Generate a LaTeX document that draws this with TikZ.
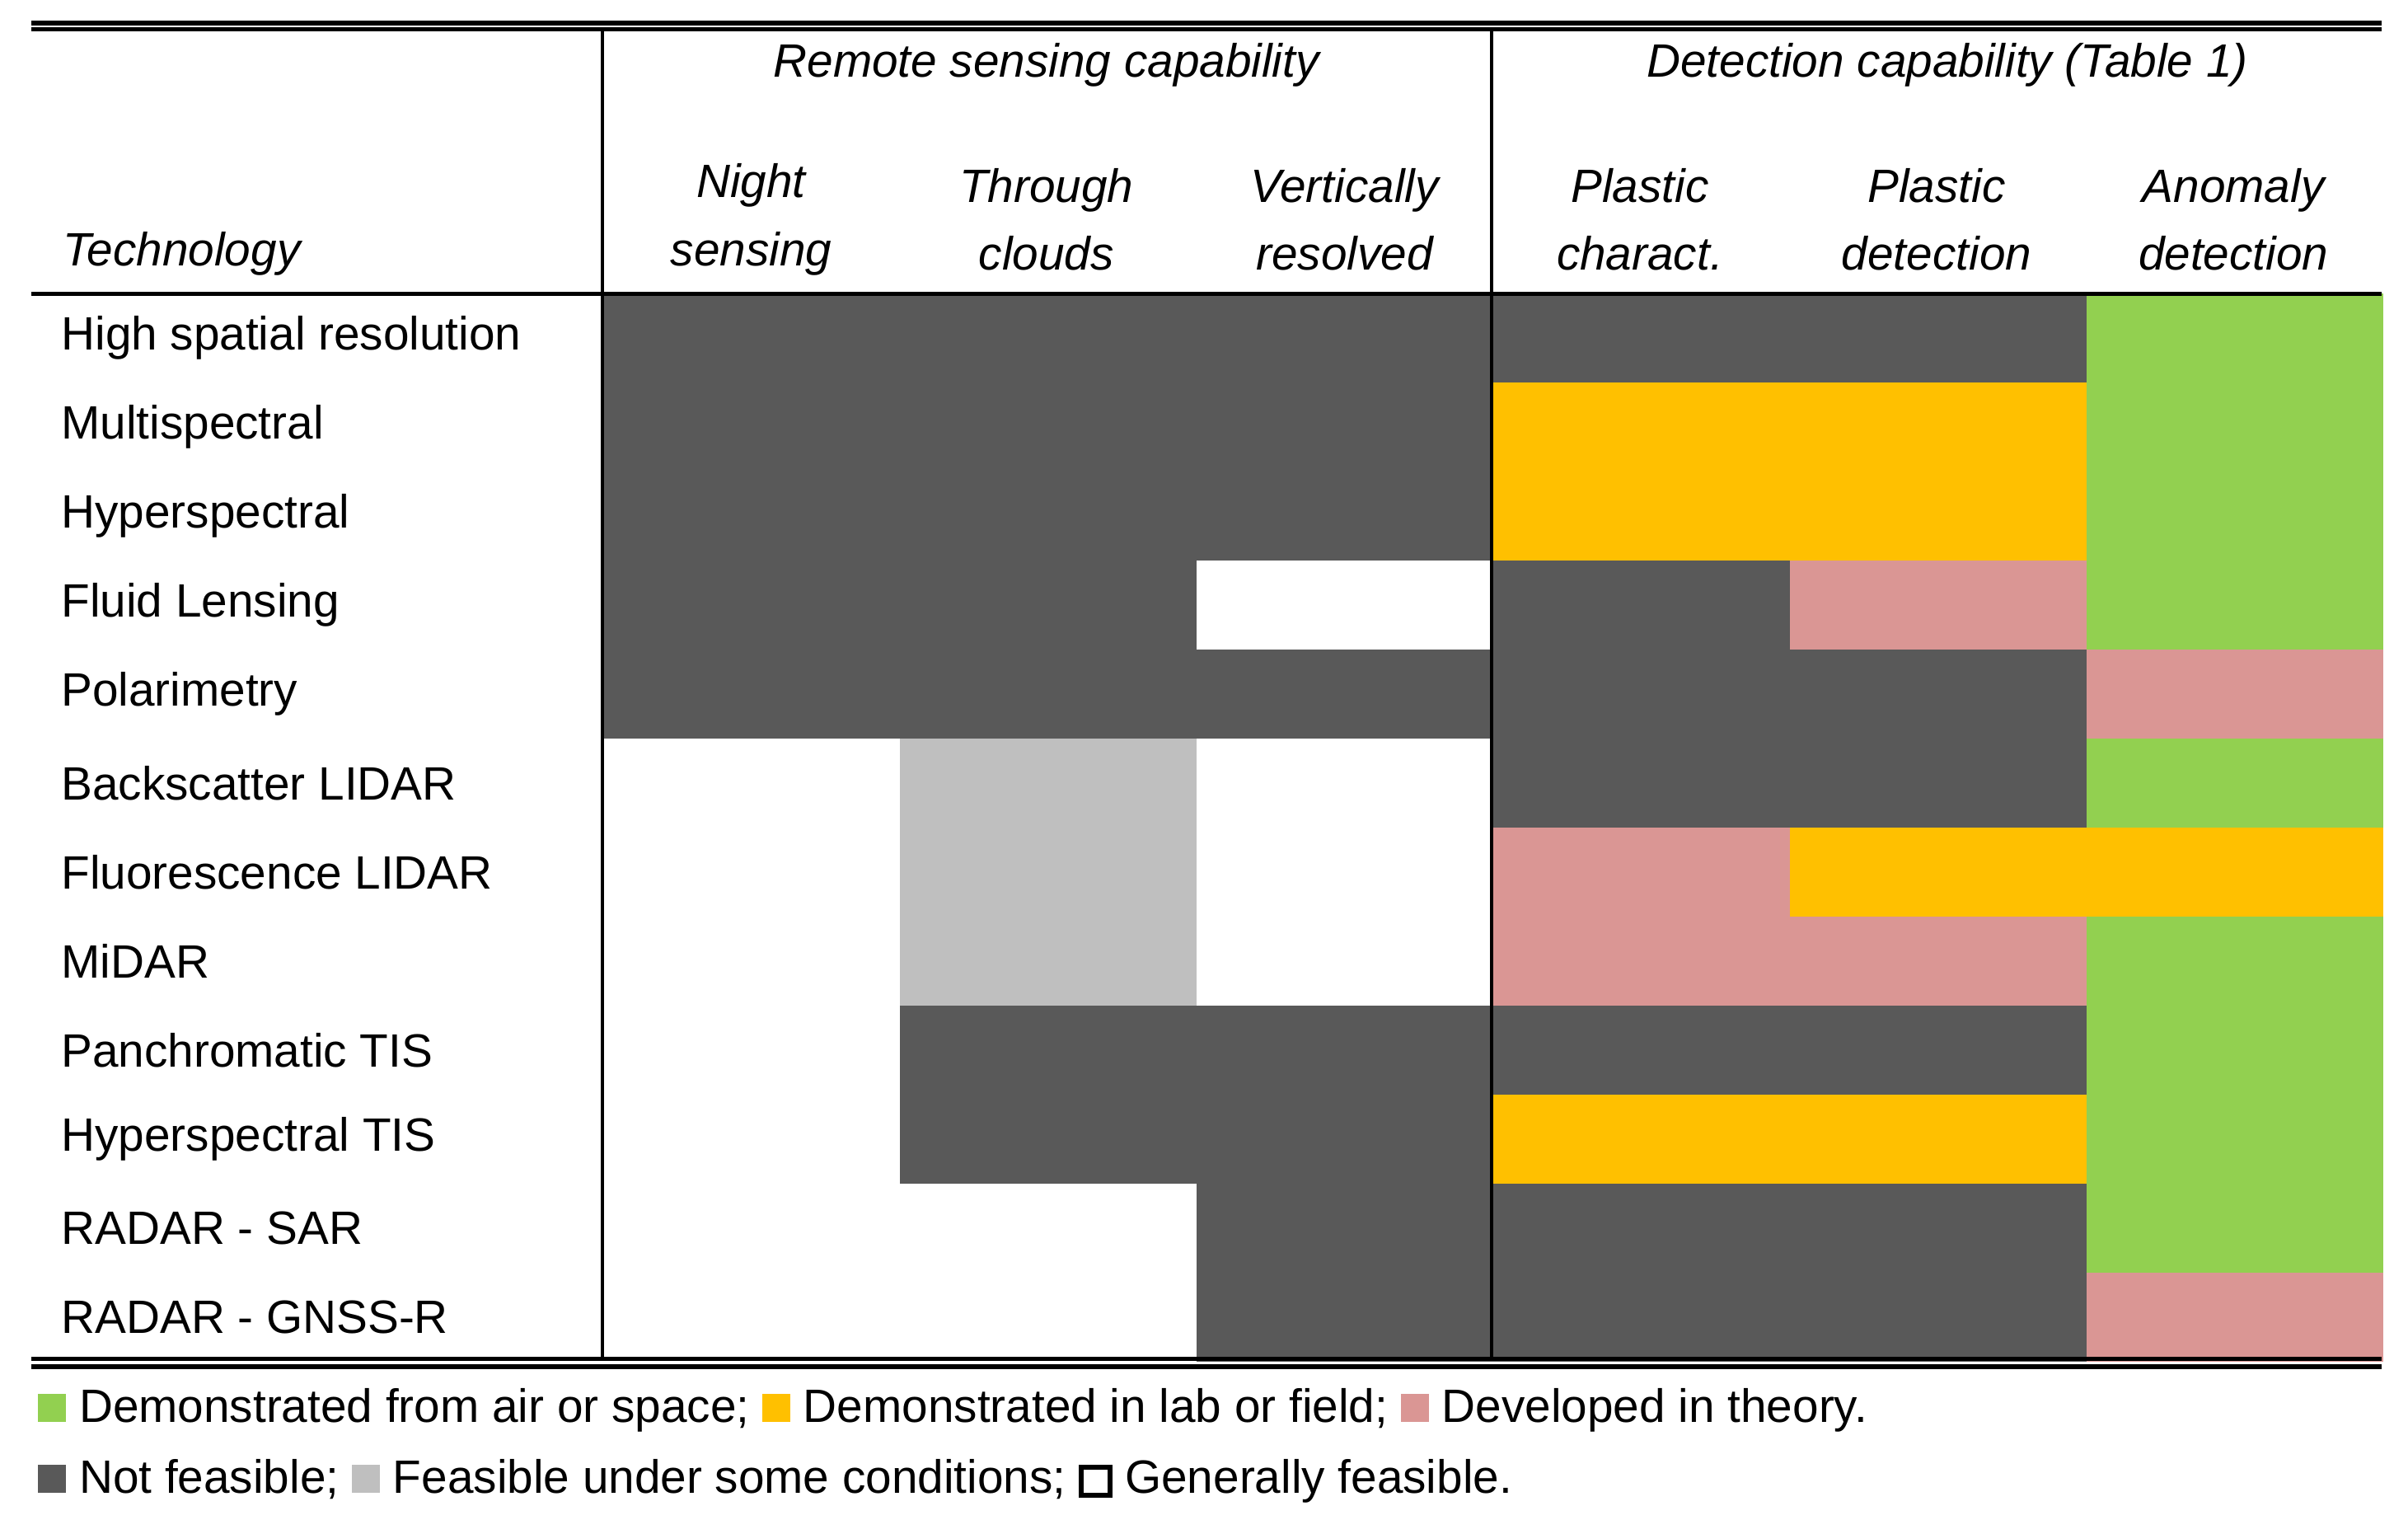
\documentclass[tikz,border=0pt]{standalone}
\usepackage{fontspec}
\setmainfont{Liberation Sans}
\definecolor{dk}{HTML}{595959}
\definecolor{lg}{HTML}{BFBFBF}
\definecolor{yl}{HTML}{FFC000}
\definecolor{gn}{HTML}{92D050}
\definecolor{pk}{HTML}{DA9694}
\newcommand{\legsq}[1]{\textcolor{#1}{\rule{.6em}{.6em}}}
\newcommand{\legbox}{{\setlength{\fboxsep}{0pt}\setlength{\fboxrule}{0.9pt}\fbox{\rule{0pt}{.5em}\hspace{.5em}}}}
\begin{document}
\begin{tikzpicture}[x=0.01cm,y=-0.01cm,
  lab/.style={anchor=west,font=\fontsize{8.6}{10}\selectfont,inner sep=0},
  hd/.style={font=\fontsize{8.6}{12.5}\selectfont\itshape,align=center,inner sep=0},
  rule/.style={line width=0.8pt}]
\useasboundingbox (0,0) rectangle (1558,983);
% cells
\def\rows{190,247.5,305,362.5,419.5,477,535,592,650,707.5,765,822.5,881}
\newcommand{\cell}[3]{% col, row, color
  \pgfmathsetmacro{\xa}{390+192*(#1-1)}\pgfmathsetmacro{\xb}{390+192*#1}
  \pgfmathsetmacro{\ya}{190+57.58*(#2-1)}\pgfmathsetmacro{\yb}{190+57.58*#2}
  \fill[#3] (\xa,\ya) rectangle (\xb,\yb);}
\foreach \r in {1,2,3,5}{\foreach \c in {1,2,3}{\cell{\c}{\r}{dk}}}
\cell{1}{4}{dk}\cell{2}{4}{dk}
\foreach \r in {6,7,8}{\cell{2}{\r}{lg}}
\foreach \r in {9,10}{\cell{2}{\r}{dk}\cell{3}{\r}{dk}}
\foreach \r in {11,12}{\cell{3}{\r}{dk}}
\foreach \r/\a/\b/\d in {1/dk/dk/gn,2/yl/yl/gn,3/yl/yl/gn,4/dk/pk/gn,5/dk/dk/pk,6/dk/dk/gn,7/pk/yl/yl,8/pk/pk/gn,9/dk/dk/gn,10/yl/yl/gn,11/dk/dk/gn,12/dk/dk/pk}{\cell{4}{\r}{\a}\cell{5}{\r}{\b}\cell{6}{\r}{\d}}
% rules
\draw[rule] (20,15) -- (1541,15);
\draw[rule] (20,19) -- (1541,19);
\draw[rule] (20,190) -- (1541,190);
\draw[rule] (20,879) -- (1541,879);
\draw[rule] (20,884) -- (1541,884);
\draw[line width=0.6pt] (390,19) -- (390,879);
\draw[line width=0.6pt] (965,19) -- (965,879);
% headers
\node[hd] (h1) at (677,42) {Remote sensing capability};
\node[hd] (h2) at (1260,42) {Detection capability (Table 1)};
\node[hd,anchor=west] (tech) at (40,164) {Technology};
\foreach \x/\t [count=\i] in {486/Night\\sensing,677/Through\\clouds,870/Vertically\\resolved,1061/Plastic\\charact.,1253/Plastic\\detection,1445/Anomaly\\detection}
  \node[hd] (c\i) at (\x,142) {\t};
% row labels
\foreach \t [count=\i] in {High spatial resolution,Multispectral,Hyperspectral,Fluid Lensing,Polarimetry,Backscatter LIDAR,Fluorescence LIDAR,MiDAR,Panchromatic TIS,Hyperspectral TIS,RADAR - SAR,RADAR - GNSS-R}
  \node[lab] (r\i) at (39,{190+57.58*(\i-0.5)}) {\t};
% legend
\node[lab] (l1) at (24,912) {\legsq{gn} Demonstrated from air or space; \legsq{yl} Demonstrated in lab or field; \legsq{pk} Developed in theory.};
\node[lab] (l2) at (24,958) {\legsq{dk} Not feasible; \legsq{lg} Feasible under some conditions; \legbox{} Generally feasible.};
\end{tikzpicture}
\end{document}
